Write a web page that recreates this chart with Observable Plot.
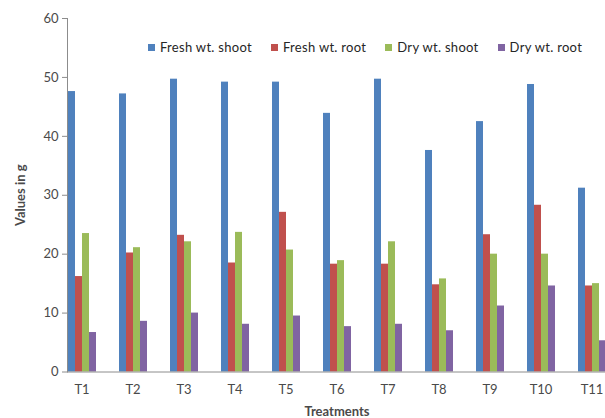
<!DOCTYPE html>
<html><head><meta charset="utf-8">
<script src="https://cdn.jsdelivr.net/npm/d3@7"></script>
<script src="https://cdn.jsdelivr.net/npm/@observablehq/plot@0.6"></script>
<style>
html,body{margin:0;padding:0;background:#fff;overflow:hidden;}
#wrap{position:relative;width:605px;height:418px;overflow:hidden;}
#wrap svg{position:absolute;left:0;top:0;max-width:none !important;}
#legend{position:absolute;top:39px;left:148px;display:flex;font:13px Lato,sans-serif;letter-spacing:0.3px;color:#262626;white-space:nowrap;}
#legend .item{display:flex;align-items:center;margin-right:19px;}
#legend .sw{width:7px;height:7px;margin-right:5px;}
g[aria-label="y-axis label"] text, g[aria-label="fx-axis label"] text{font-weight:bold;}
</style>
</head><body>
<div id="wrap"><div id="legend"></div></div>
<script>
const treatments = ["T1","T2","T3","T4","T5","T6","T7","T8","T9","T10","T11"];
const series = ["Fresh wt. shoot","Fresh wt. root","Dry wt. shoot","Dry wt. root"];
const freshShoot = [47.6, 47.2, 49.7, 49.2, 49.2, 43.9, 49.7, 37.6, 42.5, 48.8, 31.2];
const freshRoot  = [16.2, 20.2, 23.2, 18.5, 27.1, 18.3, 18.3, 14.8, 23.3, 28.3, 14.6];
const dryShoot   = [23.5, 21.1, 22.1, 23.7, 20.7, 18.9, 22.1, 15.8, 20.0, 20.0, 15.0];
const dryRoot    = [6.7, 8.6, 10.0, 8.1, 9.5, 7.7, 8.1, 7.0, 11.2, 14.6, 5.3];
const yTicks = [0, 10, 20, 30, 40, 50, 60];
const colors = ["#4F81BD", "#C0504D", "#9BBB59", "#8064A2"];

const valuesBySeries = [freshShoot, freshRoot, dryShoot, dryRoot];
const rows = [];
treatments.forEach((t, i) => series.forEach((s, k) => rows.push({t, s, v: valuesBySeries[k][i]})));

const chart = Plot.plot({
  width: 621, height: 418,
  marginLeft: 53, marginRight: 0, marginTop: 18, marginBottom: 46.5,
  style: {fontFamily: "Lato, sans-serif", fontSize: "13px", color: "#4a4a4a", background: "transparent"},
  fx: {domain: treatments, paddingInner: 0.424, paddingOuter: 0.28},
  x: {domain: series, padding: 0, axis: null},
  y: {domain: [0, 60]},
  color: {domain: series, range: colors},
  marks: [
    Plot.barY(rows, {fx: "t", x: "s", y: "v", fill: "s"}),
    Plot.frame({anchor: "left", facet: "super", stroke: "#8c8c8c"}),
    Plot.frame({anchor: "bottom", facet: "super", stroke: "#8c8c8c"}),
    Plot.axisY({ticks: yTicks, tickSize: 5, tickPadding: 4, stroke: "#8c8c8c", label: "Values in g", labelAnchor: "center", labelArrow: "none", labelOffset: 52, fontSize: 13}),
    Plot.axisFx({anchor: "bottom", tickSize: 0, tickPadding: 13, label: "Treatments", labelAnchor: "center", labelArrow: "none", labelOffset: 43.5, fontSize: 13})
  ]
});
document.getElementById("wrap").prepend(chart);

const legend = document.getElementById("legend");
series.forEach((s, k) => {
  const it = document.createElement("div"); it.className = "item";
  const sw = document.createElement("span"); sw.className = "sw"; sw.style.background = colors[k];
  const tx = document.createElement("span"); tx.textContent = s;
  it.append(sw, tx); legend.append(it);
});
</script>
</body></html>
